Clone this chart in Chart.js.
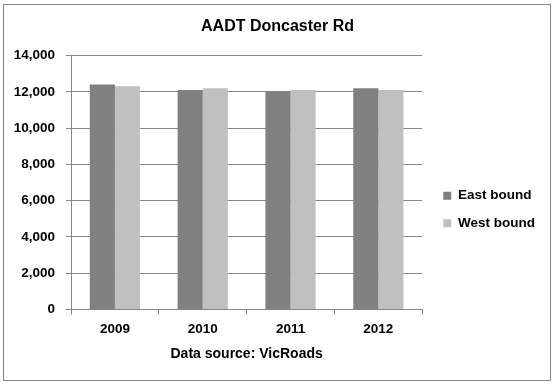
<!DOCTYPE html>
<html>
<head>
<meta charset="utf-8">
<script src="https://cdn.jsdelivr.net/npm/chart.js@4.4.0/dist/chart.umd.min.js"></script>
<style>
  body { margin: 0; background: #fff; }
  #wrap { position: relative; width: 555px; height: 386px; }
  #frame { position: absolute; left: 3px; top: 4px; width: 546px; height: 375px; border: 1px solid #888; pointer-events: none; }
</style>
</head>
<body>
<div id="wrap">
  <canvas id="chart" width="555" height="386"></canvas>
  <div id="frame"></div>
</div>
<script>
// values
const years = ['2009', '2010', '2011', '2012'];
const eastBound = [12400, 12100, 12000, 12200];
const westBound = [12300, 12200, 12100, 12100];
const yMax = 14000;
const yStep = 2000;

const gridColor = '#868686';
const boldFont = { family: 'Liberation Sans', size: 13.5, weight: 'bold' };

// legend gets some empty room on its right and is moved a bit,
// so it sits where the original has it (title stays centred on the page)
const legendNudge = {
    id: 'legendNudge',
    beforeLayout(chart) {
        const lg = chart.legend;
        if (!lg || lg._wrapped) return;
        const fit = lg.fit;
        lg.fit = function() {
            fit.call(this);
            this.width += 17;
        };
        lg._wrapped = true;
    },
    afterLayout(chart) {
        const lg = chart.legend;
        lg.left += 7; lg.right += 7;
        lg.top += 16.5; lg.bottom += 16.5;
    }
};

new Chart(document.getElementById('chart'), {
    type: 'bar',
    data: {
        labels: years,
        datasets: [
            { label: 'East bound', data: eastBound, backgroundColor: '#808080' },
            { label: 'West bound', data: westBound, backgroundColor: '#c0c0c0' }
        ]
    },
    options: {
        responsive: false,
        devicePixelRatio: 1,
        animation: false,
        layout: { padding: 0 },
        datasets: { bar: { categoryPercentage: 0.572, barPercentage: 1.0 } },
        scales: {
            x: {
                grid: { drawOnChartArea: false, color: gridColor, tickLength: 5 },
                border: { color: gridColor },
                ticks: { color: '#000', font: boldFont, padding: 7 },
                title: {
                    display: true,
                    text: 'Data source: VicRoads',
                    color: '#000',
                    font: { family: 'Liberation Sans', size: 14, weight: 'bold' },
                    padding: { top: 0, bottom: 23.3 }
                },
                afterFit(scale) { scale.height = 76.5; }
            },
            y: {
                min: 0,
                max: yMax,
                grid: { color: gridColor, tickLength: 5 },
                border: { color: gridColor },
                ticks: {
                    stepSize: yStep,
                    color: '#000',
                    font: boldFont,
                    padding: 11,
                    callback: v => v.toLocaleString('en-US')
                },
                afterFit(scale) { scale.width = 71; }
            }
        },
        plugins: {
            title: {
                display: true,
                text: 'AADT Doncaster Rd',
                color: '#000',
                font: { family: 'Liberation Sans', size: 16, weight: 'bold' },
                padding: { top: 17, bottom: 19.3 }
            },
            legend: {
                position: 'right',
                labels: { boxWidth: 8, boxHeight: 8, padding: 14, color: '#000', font: boldFont }
            },
            tooltip: { enabled: false }
        }
    },
    plugins: [legendNudge]
});
</script>
</body>
</html>
